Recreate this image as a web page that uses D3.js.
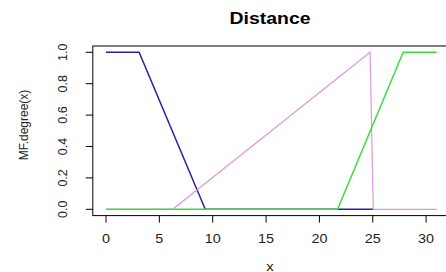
<!DOCTYPE html>
<html>
<head>
<meta charset="utf-8">
<script src="https://cdn.jsdelivr.net/npm/d3@7.9.0/dist/d3.min.js"></script>
<style>
  body { margin: 0; background: #fff; }
  svg { display: block; font-family: "Liberation Sans", Arial, sans-serif; }
</style>
</head>
<body>
<svg width="446" height="272"></svg>
<script>
// membership functions, breakpoints
const blueX = [0, 3.1, 9.3, 25.05];
const blueY = [1, 1, 0, 0];
const pinkX = [0, 6.25, 24.75, 25.05, 31];
const pinkY = [0, 0, 1, 0, 0];
const greenX = [0, 21.7, 27.85, 31];
const greenY = [0, 0, 1, 1];
const xTicks = [0, 5, 10, 15, 20, 25, 30];
const yTicks = [0, 0.2, 0.4, 0.6, 0.8, 1.0];

const svg = d3.select('svg');
const x = d3.scaleLinear().domain([-1.24, 32.24]).range([92.8, 450]);
const y = d3.scaleLinear().domain([-0.04, 1.04]).range([215.6, 46]);

// plot box
svg.append('rect')
  .attr('x', x(-1.24)).attr('y', y(1.04))
  .attr('width', x(32.24) - x(-1.24)).attr('height', y(-0.04) - y(1.04))
  .attr('fill', 'none').attr('stroke', '#000').attr('stroke-width', 1);

// x axis (sits on the box edge, ticks point down)
const xAxis = svg.append('g').attr('transform', `translate(0,${y(-0.04)})`);
xTicks.forEach(t => {
  xAxis.append('line').attr('x1', x(t)).attr('x2', x(t)).attr('y1', 0).attr('y2', 7).attr('stroke', '#000');
  xAxis.append('text')
    .attr('transform', `translate(${x(t)},27) scale(1.2,1)`)
    .attr('text-anchor', 'middle').attr('font-size', 12).attr('fill', '#222').text(t);
});

// y axis
const yAxis = svg.append('g').attr('transform', `translate(${x(-1.24)},0)`);
yTicks.forEach(t => {
  yAxis.append('line').attr('x1', -7).attr('x2', 0).attr('y1', y(t)).attr('y2', y(t)).attr('stroke', '#000');
  yAxis.append('text')
    .attr('transform', `translate(-30,${y(t)}) rotate(-90)`)
    .attr('text-anchor', 'middle').attr('dy', '0.36em')
    .attr('font-size', 12.5).attr('fill', '#222').text(t.toFixed(1));
});

// titles
svg.append('text').attr('x', 270).attr('y', 24).attr('text-anchor', 'middle')
  .attr('font-size', 16.3).attr('font-weight', 'bold')
  .attr('textLength', 81).attr('lengthAdjust', 'spacingAndGlyphs').text('Distance');
svg.append('text').attr('transform', 'translate(270,270.5) scale(1.15,1)').attr('text-anchor', 'middle')
  .attr('font-size', 13).attr('fill', '#222').text('x');
svg.append('text').attr('transform', 'translate(24,125) rotate(-90)')
  .attr('text-anchor', 'middle').attr('dy', '0.35em')
  .attr('font-size', 12).attr('fill', '#222').text('MF.degree(x)');

// lines
const line = d3.line().x(d => x(d[0])).y(d => y(d[1]));
const series = [
  { xs: blueX, ys: blueY, color: '#24249c', w: 1.5 },
  { xs: pinkX, ys: pinkY, color: '#dd99dd', w: 1.2 },
  { xs: greenX, ys: greenY, color: '#3ddd3d', w: 1.5 }
];
series.forEach(s => {
  svg.append('path')
    .attr('d', line(d3.zip(s.xs, s.ys)))
    .attr('fill', 'none').attr('stroke', s.color).attr('stroke-width', s.w);
});
</script>
</body>
</html>
